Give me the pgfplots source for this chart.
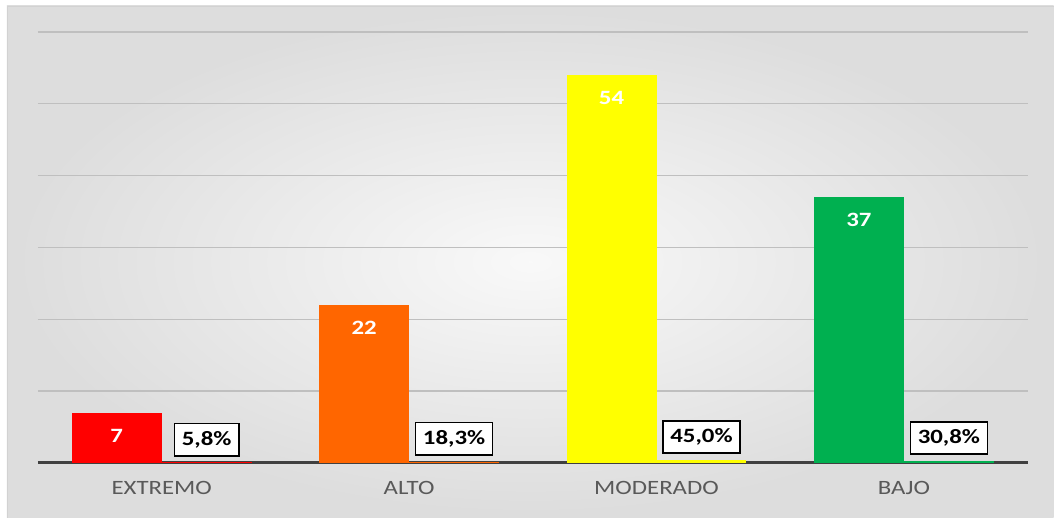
\documentclass[border=0pt]{standalone}
\usepackage{fontspec}
\setmainfont{Carlito}
\usepackage{pgfplots}
\pgfplotsset{compat=1.18}
\definecolor{cExt}{HTML}{FF0000}
\definecolor{cAlt}{HTML}{FF6600}
\definecolor{cMod}{HTML}{FFFF00}
\definecolor{cBaj}{HTML}{00B050}
\definecolor{ticktext}{HTML}{595959}
\newcommand{\wide}[1]{\scalebox{1.22}[1]{#1}}
\newcommand{\lblfont}{\fontsize{11}{13}\selectfont}

\pgfplotsset{
  count/.style={ybar, bar width=1.71cm, bar shift=-0.855cm, draw=none, fill=#1,
    point meta=explicit symbolic,
    nodes near coords={\wide{\pgfplotspointmeta}},
    every node near coord/.append style={anchor=center, xshift=-0.855cm, yshift=-0.44cm,
      text=white, font=\lblfont\bfseries}},
  share/.style={ybar, bar width=1.71cm, bar shift=0.855cm, draw=none, fill=#1,
    point meta=explicit symbolic,
    nodes near coords={\wide{\pgfplotspointmeta}},
    every node near coord/.append style={anchor=center, xshift=0.855cm, yshift=0.43cm,
      draw=black, fill=white, line width=0.8pt, text=black,
      font=\lblfont\bfseries, inner xsep=4pt, inner ysep=4.2pt}},
}

\begin{document}
\begin{tikzpicture}
% chart area background
\fill[white] (-0.722,-1.045) rectangle (19.304,8.797);
\shade[inner color=gray!5, outer color=gray!27]
  (-0.589,-1.045) rectangle (19.304,8.683);
\draw[gray!35] (-0.589,-1.045) -- (-0.589,8.683) -- (19.304,8.683);
\begin{axis}[
  scale only axis, width=18.81cm, height=8.189cm,
  xmin=-0.5, xmax=3.5, ymin=0, ymax=60,
  axis x line*=bottom, axis y line*=left,
  y axis line style={draw=none},
  x axis line style={color=black!75, line width=1.6pt, -},
  xtick={0,1,2,3},
  xticklabels={\wide{EXTREMO},\wide{ALTO},\wide{MODERADO},\wide{BAJO}},
  xticklabel style={text=ticktext, font=\lblfont, yshift=-0.22cm},
  major tick length=0pt,
  ytick={0,10,...,60}, yticklabels={},
  ymajorgrids, major grid style={gray!50, line width=0.6pt},
  clip=false,
]
\addplot[count=cExt] coordinates {(0,7) [7]};
\addplot[share=cExt] coordinates {(0,0.058) [5,8\%]};
\addplot[count=cAlt] coordinates {(1,22) [22]};
\addplot[share=cAlt] coordinates {(1,0.183) [18,3\%]};
\addplot[count=cMod] coordinates {(2,54) [54]};
\addplot[share=cMod] coordinates {(2,0.45) [45,0\%]};
\addplot[count=cBaj] coordinates {(3,37) [37]};
\addplot[share=cBaj] coordinates {(3,0.308) [30,8\%]};
\end{axis}
\end{tikzpicture}
\end{document}
